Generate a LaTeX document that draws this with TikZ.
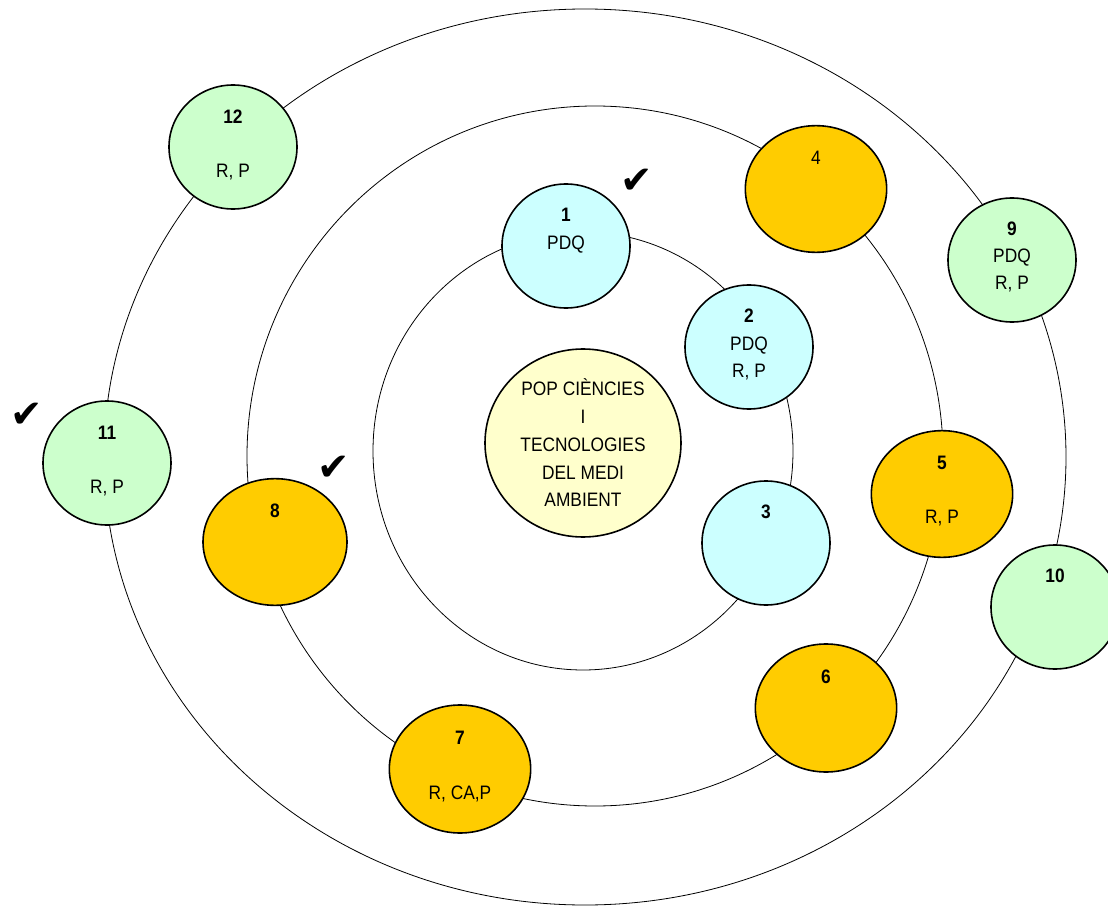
\documentclass[tikz,border=0pt]{standalone}
\usepackage{fontspec}
\setmainfont{Liberation Sans}[FakeStretch=0.89]
\newfontfamily\tickfont{DejaVu Sans}
\usepackage{xcolor}
\usetikzlibrary{shapes.geometric}
\usetikzlibrary{calc}
\definecolor{cyanorb}{HTML}{CCFFFF}
\definecolor{orangeorb}{HTML}{FFCC00}
\definecolor{greenorb}{HTML}{CCFFCC}
\definecolor{coreorb}{HTML}{FFFFCC}
\newcommand{\lbl}{\fontsize{14.6}{20.8}\selectfont}

\begin{document}
\begin{tikzpicture}[x=0.75pt,y=-0.75pt,
    every node/.style={inner sep=0,outer sep=0},
    ring/.style={line width=0.6pt},
    orb/.style={ellipse,draw,line width=1.2pt,minimum width=96pt,minimum height=93pt},
    wide/.style={minimum width=106pt,minimum height=95pt},
    num/.style={font=\lbl\bfseries,text height=10.45pt,text depth=0pt},
    txt/.style={font=\lbl,text height=10.45pt,text depth=0pt},
    tick/.style={font=\tickfont\fontsize{29}{29}\selectfont}]
    \useasboundingbox (0,0) rectangle (1108,906);

    \draw[ring] (583,451) ellipse [x radius=210, y radius=219];
    \draw[ring] (595,456) ellipse [x radius=348, y radius=350];
    \draw[ring] (585,457) ellipse [x radius=481, y radius=448];

    \node[orb, fill=coreorb, minimum width=147pt, minimum height=141pt, align=center, font=\lbl](core) at (583,443) {POP CIÈNCIES\\I\\TECNOLOGIES\\DEL MEDI\\AMBIENT};

    \node[orb, fill=cyanorb](o1) at (566,246) {};
    \node[num](n1) at ($(o1)+(0,-31)$) {1}; \node[txt](t1) at ($(o1)+(0,-3)$) {PDQ};
    \node[orb, fill=cyanorb](o2) at (749,347) {};
    \node[num](n2) at ($(o2)+(0,-31)$) {2}; \node[txt](t2) at ($(o2)+(0,-3)$) {PDQ}; \node[txt](u2) at ($(o2)+(0,24)$) {R, P};
    \node[orb, fill=cyanorb](o3) at (766,543) {};
    \node[num](n3) at ($(o3)+(0,-31)$) {3};

    \node[orb, wide, fill=orangeorb](o4) at (816,189) {};
    \node[txt](n4) at ($(o4)+(0,-31)$) {4};
    \node[orb, wide, fill=orangeorb](o5) at (942,494) {};
    \node[num](n5) at ($(o5)+(0,-31)$) {5}; \node[txt](u5) at ($(o5)+(0,23)$) {R, P};
    \node[orb, wide, fill=orangeorb, minimum height=96pt](o6) at (826,708) {};
    \node[num](n6) at ($(o6)+(0,-31)$) {6};
    \node[orb, wide, fill=orangeorb, minimum height=96pt](o7) at (460,769) {};
    \node[num](n7) at ($(o7)+(0,-31)$) {7}; \node[txt](u7) at ($(o7)+(0,24)$) {R, CA,P};
    \node[orb, wide, fill=orangeorb, minimum width=108pt](o8) at (275,542) {};
    \node[num](n8) at ($(o8)+(0,-31)$) {8};

    \node[orb, fill=greenorb](o9) at (1012,260) {};
    \node[num](n9) at ($(o9)+(0,-31)$) {9}; \node[txt](t9) at ($(o9)+(0,-4)$) {PDQ}; \node[txt](u9) at ($(o9)+(0,23)$) {R, P};
    \node[orb, fill=greenorb](o10) at (1055,607) {};
    \node[num](n10) at ($(o10)+(0,-31)$) {10};
    \node[orb, fill=greenorb](o11) at (107,463) {};
    \node[num](n11) at ($(o11)+(0,-30)$) {11}; \node[txt](u11) at ($(o11)+(0,24)$) {R, P};
    \node[orb, fill=greenorb](o12) at (233,147) {};
    \node[num](n12) at ($(o12)+(0,-30)$) {12}; \node[txt](u12) at ($(o12)+(0,24)$) {R, P};

    \node[tick](tick1) at (637,181) {✔};
    \node[tick](tick8) at (334,468) {✔};
    \node[tick](tick11) at (27,415) {✔};
\end{tikzpicture}
\end{document}
